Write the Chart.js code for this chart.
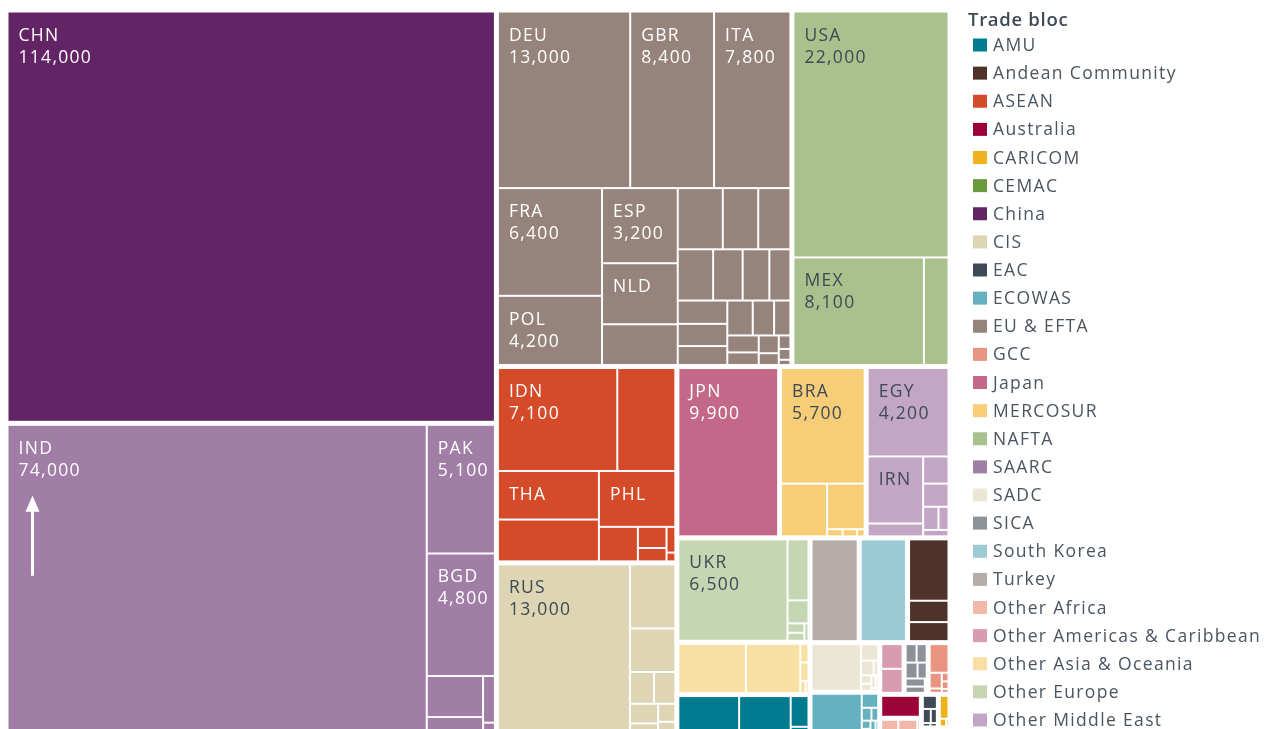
<!DOCTYPE html>
<html>
<head>
<meta charset="utf-8">
<script src="https://cdn.jsdelivr.net/npm/chart.js@4.4.0/dist/chart.umd.min.js"></script>
<style>
  html, body { margin: 0; padding: 0; background: #fff; }
  #wrap { width: 1271px; height: 729px; }
</style>
</head>
<body>
<div id="wrap"><canvas id="tree"></canvas></div>
<script>
// trade blocs, in legend order
const blocNames = ['AMU', 'Andean Community', 'ASEAN', 'Australia', 'CARICOM', 'CEMAC', 'China', 'CIS',
  'EAC', 'ECOWAS', 'EU & EFTA', 'GCC', 'Japan', 'MERCOSUR', 'NAFTA', 'SAARC', 'SADC', 'SICA',
  'South Korea', 'Turkey', 'Other Africa', 'Other Americas & Caribbean', 'Other Asia & Oceania',
  'Other Europe', 'Other Middle East'];

const blocColors = ['#007a8e', '#4f3328', '#d54a28', '#9c0339', '#f1b11d', '#6b9a3b', '#632466', '#ddd5b3',
  '#3e4a55', '#66b1bf', '#96847c', '#e89481', '#c4688a', '#f7cd78', '#a8c18d', '#a07ea5', '#ece6d4', '#8c9298',
  '#9ccbd6', '#b7aca8', '#efb8a9', '#d99bb0', '#f8dfa4', '#c5d6b3', '#c3a6c5'];

// blocs whose country labels are dark
const darkTextBlocs = ['NAFTA', 'MERCOSUR', 'Other Middle East', 'CIS', 'Other Europe'];

// countries per bloc (same order as blocNames)
const blocMembers = [
  ['DZA', 'MAR', 'TUN', 'LBY'],
  ['COL', 'PER', 'ECU'],
  ['IDN', 'MYS', 'THA', 'VNM', 'PHL', 'MMR', 'KHM', 'SGP', 'LAO', 'BRN'],
  ['AUS'],
  ['JAM', 'TTO', 'HTI'],
  ['CMR', 'GAB'],
  ['CHN'],
  ['RUS', 'KAZ', 'UZB', 'AZE', 'KGZ', 'TJK', 'ARM', 'MDA', 'TKM'],
  ['KEN', 'UGA', 'RWA', 'BDI', 'SSD'],
  ['NGA', 'GHA', 'CIV', 'SEN', 'BEN', 'BFA', 'MLI', 'NER', 'TGO'],
  ['DEU', 'GBR', 'ITA', 'FRA', 'POL', 'ESP', 'NLD', 'BEL', 'SWE', 'CZE', 'AUT', 'HUN', 'ROU', 'CHE',
   'PRT', 'GRC', 'SVK', 'DNK', 'IRL', 'BGR', 'FIN', 'NOR', 'HRV', 'LTU', 'SVN', 'LVA', 'EST', 'LUX'],
  ['SAU', 'ARE', 'KWT', 'OMN', 'QAT', 'BHR'],
  ['JPN'],
  ['BRA', 'ARG', 'VEN', 'PRY', 'URY', 'BOL'],
  ['USA', 'MEX', 'CAN'],
  ['IND', 'PAK', 'BGD', 'LKA', 'NPL', 'AFG', 'BTN'],
  ['ZAF', 'AGO', 'MOZ', 'ZWE', 'ZMB', 'TZA', 'MWI', 'NAM', 'BWA'],
  ['GTM', 'HND', 'SLV', 'NIC', 'CRI', 'PAN', 'BLZ'],
  ['KOR'],
  ['TUR'],
  ['ETH', 'SDN', 'ERI', 'SOM'],
  ['CUB', 'DOM'],
  ['TWN', 'HKG', 'MNG', 'PNG', 'NZL', 'FJI'],
  ['UKR', 'SRB', 'BIH', 'ALB', 'MKD', 'MNE'],
  ['EGY', 'IRN', 'IRQ', 'SYR', 'YEM', 'ISR', 'JOR', 'LBN']
];

const memberValues = [
  [1450, 1200, 350, 100],
  [1500, 510, 490],
  [7100, 3500, 2800, 2500, 2450, 790, 340, 240, 150, 60],
  [560],
  [160, 40, 20],
  [90, 40],
  [114000],
  [13000, 1730, 1150, 430, 410, 310, 200, 190, 150],
  [140, 75, 60, 25, 22],
  [1275, 157, 70, 60, 40, 35, 30, 25, 25],
  [13400, 8400, 7800, 6400, 4200, 3200, 2600, 1800, 1550, 1220, 1160, 1020, 850, 770,
   650, 650, 620, 570, 500, 420, 350, 300, 250, 200, 150, 100, 80, 50],
  [370, 120, 45, 40, 35, 25],
  [9900],
  [5700, 1450, 1000, 75, 70, 45],
  [22000, 8100, 1600],
  [74000, 5100, 4800, 1300, 600, 350, 100],
  [1420, 190, 105, 50, 50, 50, 30, 30, 20],
  [140, 130, 120, 95, 94, 90, 30],
  [2850],
  [2900],
  [185, 130, 60, 40],
  [360, 350],
  [2030, 1600, 110, 100, 40, 35],
  [6500, 790, 290, 90, 90, 60],
  [4240, 2150, 460, 410, 350, 200, 150, 120]
];

// which cells carry a label
const labelWithValue = ['CHN', 'IND', 'PAK', 'BGD', 'DEU', 'GBR', 'ITA', 'FRA', 'ESP', 'POL',
  'USA', 'MEX', 'IDN', 'JPN', 'BRA', 'EGY', 'RUS', 'UKR'];
const labelNameOnly = ['NLD', 'THA', 'PHL', 'IRN'];

// layout extent in scale units (bottom runs a little past the visible area)
const TREE_W = 944, TREE_H = 726;

function fmt(v) {
  const r = v >= 10000 ? Math.round(v / 1000) * 1000 : Math.round(v / 100) * 100;
  return r.toLocaleString('en-US');
}

// d3 style squarify, golden ratio
function squarify(items, x0, y0, x1, y1) {
  const ratio = (1 + Math.sqrt(5)) / 2;
  let value = items.reduce((s, d) => s + d.value, 0);
  let i0 = 0, i1 = 0;
  const n = items.length;
  while (i0 < n) {
    const dx = x1 - x0, dy = y1 - y0;
    let sumValue = items[i1++].value;
    let minValue = sumValue, maxValue = sumValue;
    const alpha = Math.max(dy / dx, dx / dy) / (value * ratio);
    let beta = sumValue * sumValue * alpha;
    let minRatio = Math.max(maxValue / beta, beta / minValue);
    for (; i1 < n; ++i1) {
      const nv = items[i1].value;
      sumValue += nv;
      if (nv < minValue) minValue = nv;
      if (nv > maxValue) maxValue = nv;
      beta = sumValue * sumValue * alpha;
      const newRatio = Math.max(maxValue / beta, beta / minValue);
      if (newRatio > minRatio) { sumValue -= nv; break; }
      minRatio = newRatio;
    }
    const row = items.slice(i0, i1);
    if (dx < dy) {
      const yb = value ? y0 + dy * sumValue / value : y1;
      let x = x0; const k = (x1 - x0) / sumValue;
      row.forEach(d => { d.x0 = x; x += d.value * k; d.x1 = x; d.y0 = y0; d.y1 = yb; });
      y0 = yb;
    } else {
      const xb = value ? x0 + dx * sumValue / value : x1;
      let y = y0; const k = (y1 - y0) / sumValue;
      row.forEach(d => { d.y0 = y; y += d.value * k; d.y1 = y; d.x0 = x0; d.x1 = xb; });
      x0 = xb;
    }
    value -= sumValue; i0 = i1;
  }
}

function buildTree() {
  const blocs = blocNames.map((name, i) => {
    const kids = blocMembers[i].map((code, j) => ({ code, value: memberValues[i][j] }))
      .sort((a, b) => b.value - a.value);
    return { name, color: blocColors[i], kids, value: kids.reduce((s, d) => s + d.value, 0) };
  }).sort((a, b) => b.value - a.value);
  squarify(blocs, 0, 0, TREE_W, TREE_H);
  blocs.forEach(b => squarify(b.kids, b.x0, b.y0, b.x1, b.y1));
  return blocs;
}

const treemapPlugin = {
  id: 'treemapCells',
  beforeDatasetsDraw(chart) {
    const { ctx, scales: { x, y } } = chart;
    const blocs = buildTree();
    const bGap = 1.5, cGap = 1;
    ctx.save();
    blocs.forEach(b => {
      const bx0 = x.getPixelForValue(b.x0) + bGap, bx1 = x.getPixelForValue(b.x1) - bGap;
      const by0 = y.getPixelForValue(b.y0) + bGap, by1 = y.getPixelForValue(b.y1) - bGap;
      b.kids.forEach(c => {
        const cx0 = Math.max(bx0, x.getPixelForValue(c.x0)) + cGap;
        const cx1 = Math.min(bx1, x.getPixelForValue(c.x1)) - cGap;
        const cy0 = Math.max(by0, y.getPixelForValue(c.y0)) + cGap;
        const cy1 = Math.min(by1, y.getPixelForValue(c.y1)) - cGap;
        if (cx1 <= cx0 || cy1 <= cy0) return;
        ctx.fillStyle = b.color;
        ctx.fillRect(cx0, cy0, cx1 - cx0, cy1 - cy0);
        c.px = { x0: cx0, y0: cy0, x1: cx1, y1: cy1 };
      });
    });
    // labels
    ctx.font = '17.5px "Open Sans", sans-serif';
    ctx.letterSpacing = '1.3px';
    ctx.textBaseline = 'alphabetic';
    ctx.textAlign = 'left';
    blocs.forEach(b => {
      ctx.fillStyle = darkTextBlocs.includes(b.name) ? '#3d4a56' : '#ffffff';
      b.kids.forEach(c => {
        if (!c.px) return;
        const withVal = labelWithValue.includes(c.code);
        if (!withVal && !labelNameOnly.includes(c.code)) return;
        ctx.fillText(c.code, c.px.x0 + 10, c.px.y0 + 28);
        if (withVal) ctx.fillText(fmt(c.value), c.px.x0 + 10, c.px.y0 + 50);
        if (c.code === 'IND') {
          // upward arrow marker
          const ax = c.px.x0 + 24, top = c.px.y0 + 70, bot = c.px.y0 + 150;
          ctx.save();
          ctx.strokeStyle = '#ffffff'; ctx.fillStyle = '#ffffff'; ctx.lineWidth = 3;
          ctx.beginPath(); ctx.moveTo(ax, bot); ctx.lineTo(ax, top + 12); ctx.stroke();
          ctx.beginPath(); ctx.moveTo(ax, top); ctx.lineTo(ax - 7, top + 16); ctx.lineTo(ax + 7, top + 16);
          ctx.closePath(); ctx.fill();
          ctx.restore();
        }
      });
    });
    ctx.restore();
  },
  afterDraw(chart) {
    const ctx = chart.ctx;
    ctx.save();
    ctx.textAlign = 'left';
    ctx.textBaseline = 'alphabetic';
    ctx.fillStyle = '#3d4a55';
    ctx.font = '600 18.5px "Open Sans", sans-serif';
    ctx.letterSpacing = '0.7px';
    ctx.fillText('Trade bloc', 968, 26);
    ctx.font = '17.5px "Open Sans", sans-serif';
    ctx.letterSpacing = '1.35px';
    chart.data.datasets.forEach((ds, i) => {
      const yy = 51 + i * 28.125;
      ctx.fillStyle = ds.backgroundColor;
      ctx.fillRect(973, yy - 12.5, 14, 13);
      ctx.fillStyle = '#4a5560';
      ctx.fillText(ds.label, 993, yy);
    });
    ctx.restore();
  }
};

new Chart(document.getElementById('tree'), {
  type: 'scatter',
  data: {
    datasets: blocNames.map((name, i) => ({ label: name, backgroundColor: blocColors[i], data: [] }))
  },
  options: {
    responsive: true,
    maintainAspectRatio: false,
    animation: false,
    layout: { padding: { left: 6, top: 10, right: 321, bottom: 0 } },
    scales: {
      x: { type: 'linear', min: 0, max: TREE_W, display: false },
      y: { type: 'linear', min: 0, max: 719, reverse: true, display: false }
    },
    plugins: { legend: { display: false }, tooltip: { enabled: false } }
  },
  plugins: [treemapPlugin]
});
</script>
</body>
</html>
